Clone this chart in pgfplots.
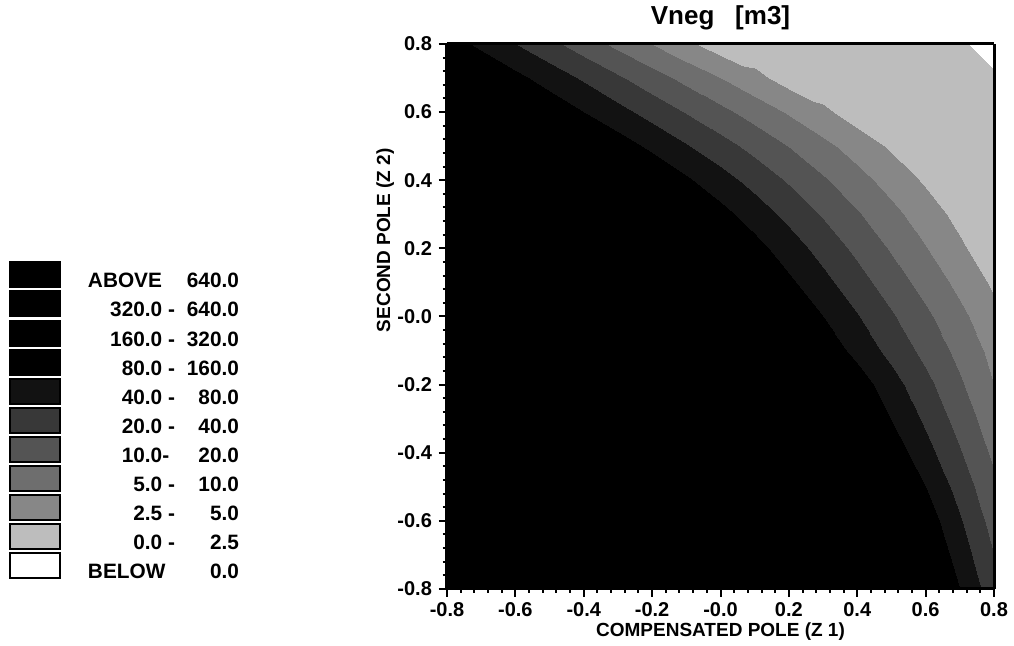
\documentclass[border=0pt]{standalone}
\usepackage{fontspec}
\setmainfont{Liberation Sans}
\usepackage{pgfplots}
\pgfplotsset{compat=1.18}
\definecolor{c0}{gray}{1}
\definecolor{c1}{gray}{0.74}
\definecolor{c2}{gray}{0.53}
\definecolor{c3}{gray}{0.43}
\definecolor{c4}{gray}{0.33}
\definecolor{c5}{gray}{0.22}
\definecolor{c6}{gray}{0.07}
\definecolor{c7}{gray}{0}
\definecolor{c8}{gray}{0}
\definecolor{c9}{gray}{0}
\definecolor{c10}{gray}{0}
\begin{document}
\begin{tikzpicture}
\useasboundingbox (-223.5pt,-28.5pt) rectangle (283.5pt,294.5pt);
\begin{axis}[
  at={(0,0)}, anchor=south west,
  scale only axis, width=273.5pt, height=272.5pt,
  view={0}{90},
  axis on top,
  xmin=-0.8, xmax=0.8, ymin=-0.8, ymax=0.8,
  xtick={-0.8,-0.6,-0.4,-0.2,0,0.2,0.4,0.6,0.8},
  ytick={-0.8,-0.6,-0.4,-0.2,0,0.2,0.4,0.6,0.8},
  xticklabels={-0.8,-0.6,-0.4,-0.2,-0.0,0.2,0.4,0.6,0.8},
  yticklabels={-0.8,-0.6,-0.4,-0.2,-0.0,0.2,0.4,0.6,0.8},
  minor x tick num=4, minor y tick num=4,
  tick align=outside, xtick pos=left, ytick pos=left,
  major tick length=4pt, minor tick length=2pt,
  every tick/.style={black, line width=1pt},
  axis line style={line width=1.5pt},
  ticklabel style={font=\fontsize{10}{12}\selectfont\bfseries},
  xticklabel style={yshift=1pt},
  colormap={vneg}{gray(0cm)=(1) gray(1cm)=(0.74) gray(2cm)=(0.53) gray(3cm)=(0.43) gray(4cm)=(0.33) gray(5cm)=(0.22) gray(6cm)=(0.07) gray(7cm)=(0) gray(8cm)=(0) gray(9cm)=(0) gray(10cm)=(0) gray(11cm)=(0)},
  colormap access=piecewise constant,
  point meta min=-1, point meta max=10,
  title={Vneg\hspace{0.8em}[m3]},
  every axis title/.style={at={(axis description cs:0.5,1.048)}, anchor=center, font=\fontsize{13}{15}\selectfont\bfseries},
  xlabel={COMPENSATED POLE (Z 1)},
  ylabel={SECOND POLE (Z 2)},
  every axis x label/.style={at={(axis description cs:0.5,-0.078)}, anchor=center, font=\fontsize{9.5}{11}\selectfont\bfseries},
  every axis y label/.style={at={(axis description cs:-0.113,0.64)}, rotate=90, anchor=center, font=\fontsize{9.5}{11}\selectfont\bfseries},
  legend style={at={(axis description cs:-0.8007,0.601)}, anchor=north west, draw=none, fill=none, inner sep=0pt, outer sep=0pt, row sep=-0.2pt, column sep=13.5pt, nodes={inner sep=0pt, font=\fontsize{10.4}{12}\selectfont\bfseries}},
  legend cell align=left,
  legend image code/.code={\draw[#1] (0pt,-2.65pt) rectangle (25pt,9.85pt);},
]
\addplot3[surf, shader=interp, mesh/rows=17, forget plot] table[x=x, y=y, z=t] {
x y t
-0.8 -0.8 9.9
-0.7 -0.8 9.9
-0.6 -0.8 9.9
-0.5 -0.8 9.9
-0.4 -0.8 9.9
-0.3 -0.8 9.9
-0.2 -0.8 9.9
-0.1 -0.8 9.9
0.0 -0.8 9.9
0.1 -0.8 9.9
0.2 -0.8 9.9
0.3 -0.8 9.9
0.4 -0.8 9.9
0.5 -0.8 9.2
0.6 -0.8 7.6
0.7 -0.8 6.0
0.8 -0.8 4.4
-0.8 -0.7 9.9
-0.7 -0.7 9.9
-0.6 -0.7 9.9
-0.5 -0.7 9.9
-0.4 -0.7 9.9
-0.3 -0.7 9.9
-0.2 -0.7 9.9
-0.1 -0.7 9.9
0.0 -0.7 9.9
0.1 -0.7 9.9
0.2 -0.7 9.9
0.3 -0.7 9.9
0.4 -0.7 9.9
0.5 -0.7 8.62
0.6 -0.7 7.08
0.7 -0.7 5.54
0.8 -0.7 4.0
-0.8 -0.6 9.9
-0.7 -0.6 9.9
-0.6 -0.6 9.9
-0.5 -0.6 9.9
-0.4 -0.6 9.9
-0.3 -0.6 9.9
-0.2 -0.6 9.9
-0.1 -0.6 9.9
0.0 -0.6 9.9
0.1 -0.6 9.9
0.2 -0.6 9.9
0.3 -0.6 9.9
0.4 -0.6 9.6
0.5 -0.6 8.1
0.6 -0.6 6.6
0.7 -0.6 5.1
0.8 -0.6 3.6
-0.8 -0.5 9.9
-0.7 -0.5 9.9
-0.6 -0.5 9.9
-0.5 -0.5 9.9
-0.4 -0.5 9.9
-0.3 -0.5 9.9
-0.2 -0.5 9.9
-0.1 -0.5 9.9
0.0 -0.5 9.9
0.1 -0.5 9.9
0.2 -0.5 9.9
0.3 -0.5 9.9
0.4 -0.5 8.8
0.5 -0.5 7.4
0.6 -0.5 6.0
0.7 -0.5 4.6
0.8 -0.5 3.2
-0.8 -0.4 9.9
-0.7 -0.4 9.9
-0.6 -0.4 9.9
-0.5 -0.4 9.9
-0.4 -0.4 9.9
-0.3 -0.4 9.9
-0.2 -0.4 9.9
-0.1 -0.4 9.9
0.0 -0.4 9.9
0.1 -0.4 9.9
0.2 -0.4 9.9
0.3 -0.4 9.2
0.4 -0.4 7.92
0.5 -0.4 6.64
0.6 -0.4 5.36
0.7 -0.4 4.08
0.8 -0.4 2.8
-0.8 -0.3 9.9
-0.7 -0.3 9.9
-0.6 -0.3 9.9
-0.5 -0.3 9.9
-0.4 -0.3 9.9
-0.3 -0.3 9.9
-0.2 -0.3 9.9
-0.1 -0.3 9.9
0.0 -0.3 9.9
0.1 -0.3 9.9
0.2 -0.3 9.6
0.3 -0.3 8.4
0.4 -0.3 7.2
0.5 -0.3 6.0
0.6 -0.3 4.8
0.7 -0.3 3.6
0.8 -0.3 2.4
-0.8 -0.2 9.9
-0.7 -0.2 9.9
-0.6 -0.2 9.9
-0.5 -0.2 9.9
-0.4 -0.2 9.9
-0.3 -0.2 9.9
-0.2 -0.2 9.9
-0.1 -0.2 9.9
0.0 -0.2 9.9
0.1 -0.2 9.9
0.2 -0.2 8.86
0.3 -0.2 7.71
0.4 -0.2 6.57
0.5 -0.2 5.43
0.6 -0.2 4.29
0.7 -0.2 3.14
0.8 -0.2 2.0
-0.8 -0.1 9.9
-0.7 -0.1 9.9
-0.6 -0.1 9.9
-0.5 -0.1 9.9
-0.4 -0.1 9.9
-0.3 -0.1 9.9
-0.2 -0.1 9.9
-0.1 -0.1 9.9
0.0 -0.1 9.7
0.1 -0.1 8.7
0.2 -0.1 7.7
0.3 -0.1 6.7
0.4 -0.1 5.7
0.5 -0.1 4.7
0.6 -0.1 3.7
0.7 -0.1 2.7
0.8 -0.1 1.7
-0.8 0.0 9.9
-0.7 0.0 9.9
-0.6 0.0 9.9
-0.5 0.0 9.9
-0.4 0.0 9.9
-0.3 0.0 9.9
-0.2 0.0 9.9
-0.1 0.0 9.76
0.0 0.0 8.82
0.1 0.0 7.88
0.2 0.0 6.94
0.3 0.0 6.0
0.4 0.0 5.06
0.5 0.0 4.12
0.6 0.0 3.18
0.7 0.0 2.24
0.8 0.0 1.3
-0.8 0.1 9.9
-0.7 0.1 9.9
-0.6 0.1 9.9
-0.5 0.1 9.9
-0.4 0.1 9.9
-0.3 0.1 9.9
-0.2 0.1 9.75
-0.1 0.1 8.86
0.0 0.1 7.96
0.1 0.1 7.07
0.2 0.1 6.18
0.3 0.1 5.29
0.4 0.1 4.39
0.5 0.1 3.5
0.6 0.1 2.61
0.7 0.1 1.71
0.8 0.1 0.82
-0.8 0.2 9.9
-0.7 0.2 9.9
-0.6 0.2 9.9
-0.5 0.2 9.9
-0.4 0.2 9.9
-0.3 0.2 9.79
-0.2 0.2 8.93
-0.1 0.2 8.07
0.0 0.2 7.21
0.1 0.2 6.34
0.2 0.2 5.48
0.3 0.2 4.62
0.4 0.2 3.76
0.5 0.2 2.9
0.6 0.2 2.03
0.7 0.2 1.17
0.8 0.2 0.3
-0.8 0.3 9.9
-0.7 0.3 9.9
-0.6 0.3 9.9
-0.5 0.3 9.9
-0.4 0.3 9.55
-0.3 0.3 8.74
-0.2 0.3 7.93
-0.1 0.3 7.13
0.0 0.3 6.32
0.1 0.3 5.52
0.2 0.3 4.71
0.3 0.3 3.9
0.4 0.3 3.1
0.5 0.3 2.29
0.6 0.3 1.48
0.7 0.3 0.68
0.8 0.3 0.3
-0.8 0.4 9.9
-0.7 0.4 9.9
-0.6 0.4 9.9
-0.5 0.4 9.18
-0.4 0.4 8.43
-0.3 0.4 7.67
-0.2 0.4 6.91
-0.1 0.4 6.15
0.0 0.4 5.39
0.1 0.4 4.64
0.2 0.4 3.88
0.3 0.4 3.12
0.4 0.4 2.36
0.5 0.4 1.61
0.6 0.4 0.85
0.7 0.4 0.3
0.8 0.4 0.3
-0.8 0.5 9.9
-0.7 0.5 9.31
-0.6 0.5 8.6
-0.5 0.5 7.9
-0.4 0.5 7.2
-0.3 0.5 6.49
-0.2 0.5 5.79
-0.1 0.5 5.08
0.0 0.5 4.38
0.1 0.5 3.67
0.2 0.5 2.97
0.3 0.5 2.27
0.4 0.5 1.56
0.5 0.5 0.86
0.6 0.5 0.3
0.7 0.5 0.3
0.8 0.5 0.3
-0.8 0.6 8.74
-0.7 0.6 8.05
-0.6 0.6 7.37
-0.5 0.6 6.68
-0.4 0.6 6.0
-0.3 0.6 5.32
-0.2 0.6 4.63
-0.1 0.6 3.95
0.0 0.6 3.26
0.1 0.6 2.58
0.2 0.6 1.89
0.3 0.6 1.21
0.4 0.6 0.52
0.5 0.6 0.3
0.6 0.6 0.3
0.7 0.6 0.3
0.8 0.6 0.3
-0.8 0.7 7.71
-0.7 0.7 7.0
-0.6 0.7 6.29
-0.5 0.7 5.57
-0.4 0.7 4.86
-0.3 0.7 4.14
-0.2 0.7 3.43
-0.1 0.7 2.72
0.0 0.7 2.0
0.1 0.7 1.29
0.2 0.7 0.57
0.3 0.7 0.3
0.4 0.7 0.3
0.5 0.7 0.3
0.6 0.7 0.3
0.7 0.7 0.3
0.8 0.7 0.3
-0.8 0.8 6.53
-0.7 0.8 5.77
-0.6 0.8 5.02
-0.5 0.8 4.26
-0.4 0.8 3.5
-0.3 0.8 2.74
-0.2 0.8 1.98
-0.1 0.8 1.23
0.0 0.8 0.47
0.1 0.8 0.3
0.2 0.8 0.3
0.3 0.8 0.3
0.4 0.8 0.3
0.5 0.8 0.3
0.6 0.8 0.3
0.7 0.8 0.3
0.8 0.8 -0.9
};
\addlegendimage{fill=c10, draw=black, line width=1pt}
\addlegendentry{\makebox[43.5pt][l]{ABOVE}\makebox[32pt][r]{640.0}}
\addlegendimage{fill=c9, draw=black, line width=1pt}
\addlegendentry{\makebox[43.5pt][r]{320.0 -}\makebox[32pt][r]{640.0}}
\addlegendimage{fill=c8, draw=black, line width=1pt}
\addlegendentry{\makebox[43.5pt][r]{160.0 -}\makebox[32pt][r]{320.0}}
\addlegendimage{fill=c7, draw=black, line width=1pt}
\addlegendentry{\makebox[43.5pt][r]{80.0 -}\makebox[32pt][r]{160.0}}
\addlegendimage{fill=c6, draw=black, line width=1pt}
\addlegendentry{\makebox[43.5pt][r]{40.0 -}\makebox[32pt][r]{80.0}}
\addlegendimage{fill=c5, draw=black, line width=1pt}
\addlegendentry{\makebox[43.5pt][r]{20.0 -}\makebox[32pt][r]{40.0}}
\addlegendimage{fill=c4, draw=black, line width=1pt}
\addlegendentry{\makebox[43.5pt][r]{10.0-\hspace{0.278em}}\makebox[32pt][r]{20.0}}
\addlegendimage{fill=c3, draw=black, line width=1pt}
\addlegendentry{\makebox[43.5pt][r]{5.0 -}\makebox[32pt][r]{10.0}}
\addlegendimage{fill=c2, draw=black, line width=1pt}
\addlegendentry{\makebox[43.5pt][r]{2.5 -}\makebox[32pt][r]{5.0}}
\addlegendimage{fill=c1, draw=black, line width=1pt}
\addlegendentry{\makebox[43.5pt][r]{0.0 -}\makebox[32pt][r]{2.5}}
\addlegendimage{fill=c0, draw=black, line width=1pt}
\addlegendentry{\makebox[43.5pt][l]{BELOW}\makebox[32pt][r]{0.0}}
\end{axis}
\end{tikzpicture}
\end{document}
